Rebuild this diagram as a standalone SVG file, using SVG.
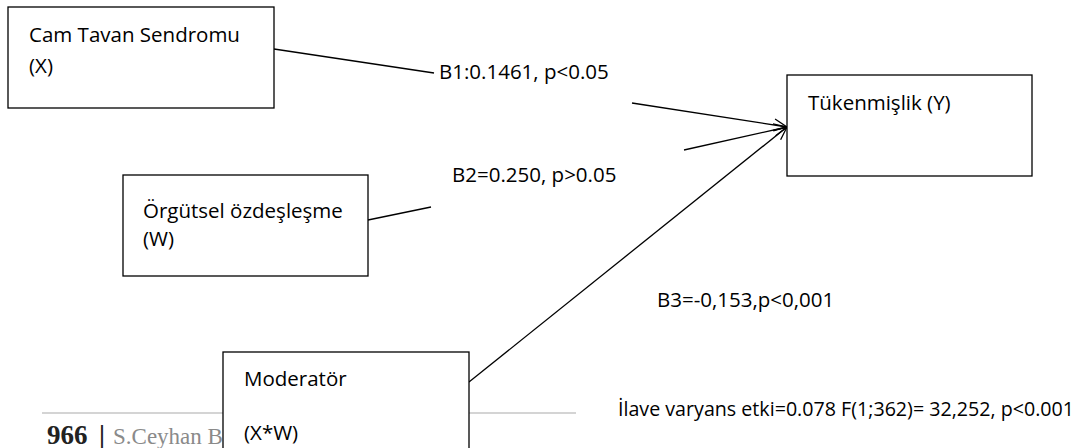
<svg xmlns="http://www.w3.org/2000/svg" width="1083" height="448" viewBox="0 0 1083 448">
  <style>
    .box { fill: #ffffff; stroke: #000000; stroke-width: 1.3; }
    .t { font-family: "Open Sans", "Noto Sans", "Liberation Sans", sans-serif; font-size: 20.5px; fill: #000000; }
    .conn { stroke: #000000; stroke-width: 1.3; fill: none; }
    .pg { font-family: "Liberation Serif", serif; font-weight: bold; font-size: 27px; fill: #222222; }
    .auth { font-family: "Liberation Serif", serif; font-size: 23px; fill: #8a8a8a; }
  </style>
  <defs>
    <marker id="arr" markerUnits="userSpaceOnUse" markerWidth="16" markerHeight="14" refX="14" refY="7" orient="auto">
      <path d="M1,1 L14,7 L1,13" fill="none" stroke="#000000" stroke-width="1.3"/>
    </marker>
  </defs>
  <rect width="1083" height="448" fill="#ffffff"/>

  <g id="footer">
    <line x1="42" y1="413" x2="576" y2="413" stroke="#d4d4d4" stroke-width="2"/>
    <text class="pg" x="47" y="444">966</text>
    <text class="pg" x="99" y="444">|</text>
    <text class="auth" x="113" y="444">S.Ceyhan Be</text>
  </g>

  <g id="connectors">
    <line class="conn" x1="274" y1="49" x2="434" y2="73"/>
    <line class="conn" x1="632" y1="103" x2="787" y2="127" marker-end="url(#arr)"/>
    <line class="conn" x1="368" y1="220" x2="431" y2="207"/>
    <line class="conn" x1="684" y1="150" x2="787" y2="127" marker-end="url(#arr)"/>
    <line class="conn" x1="469" y1="382" x2="787" y2="127" marker-end="url(#arr)"/>
  </g>

  <g id="node-x">
    <rect class="box" x="8" y="7" width="266" height="101"/>
    <text class="t" x="29" y="42">Cam Tavan Sendromu</text>
    <text class="t" x="29" y="73">(X)</text>
  </g>

  <g id="node-w">
    <rect class="box" x="123" y="175" width="245" height="101"/>
    <text class="t" x="143" y="218">Örgütsel özdeşleşme</text>
    <text class="t" x="143" y="246">(W)</text>
  </g>

  <g id="node-y">
    <rect class="box" x="787" y="75" width="245" height="101"/>
    <text class="t" x="808" y="110">Tükenmişlik (Y)</text>
  </g>

  <g id="node-mod">
    <rect class="box" x="223" y="352" width="246" height="110"/>
    <text class="t" x="244" y="386">Moderatör</text>
    <text class="t" x="244" y="440">(X*W)</text>
  </g>

  <g id="labels">
    <text class="t" x="439" y="79">B1:0.1461, p&lt;0.05</text>
    <text class="t" x="452" y="182">B2=0.250, p&gt;0.05</text>
    <text class="t" x="657" y="307">B3=-0,153,p&lt;0,001</text>
    <text class="t" x="618" y="416" style="font-size:19.7px" textLength="456" lengthAdjust="spacingAndGlyphs">İlave varyans etki=0.078 F(1;362)= 32,252, p&lt;0.001</text>
  </g>
</svg>
